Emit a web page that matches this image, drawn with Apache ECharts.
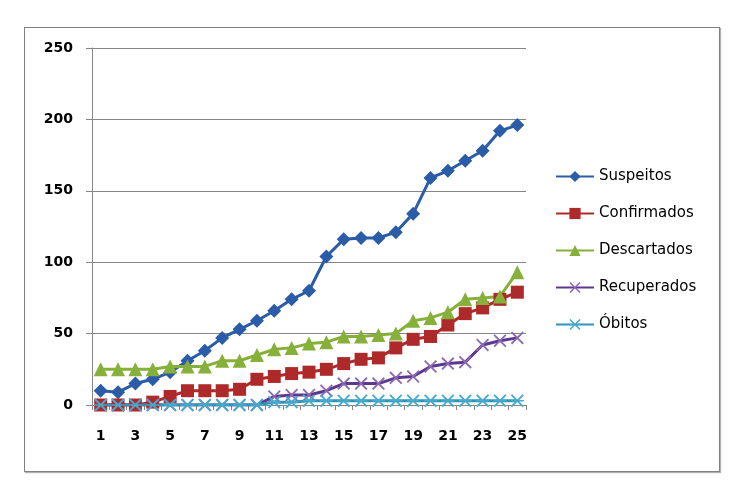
<!DOCTYPE html>
<html>
<head>
<meta charset="utf-8">
<title>Casos</title>
<script src="https://cdn.jsdelivr.net/npm/echarts@6/dist/echarts.min.js"></script>
<style>
    html, body { margin: 0; padding: 0; background: #fff; }
    #frame {
        position: absolute; left: 24px; top: 27px;
        width: 694px; height: 443px;
        border: 1px solid #808080;
        box-shadow: 1px 1px 1px #b0b0b0;
    }
    #chart1 { position: absolute; left: 0; top: 0; width: 745px; height: 500px; }
</style>
</head>
<body>
<div id="frame"></div>
<div id="chart1"></div>
<script>
var dias = [];
for (var d = 1; d <= 25; d++) { dias.push(String(d)); }
var yTicks = [0, 50, 100, 150, 200, 250];

var suspeitos   = [10, 9, 15, 18, 23, 31, 38, 47, 53, 59, 66, 74, 80, 104, 116, 117, 117, 121, 134, 159, 164, 171, 178, 192, 196];
var confirmados = [0, 0, 0, 2, 6, 10, 10, 10, 11, 18, 20, 22, 23, 25, 29, 32, 33, 40, 46, 48, 56, 64, 68, 74, 79];
var descartados = [25, 25, 25, 25, 27, 27, 27, 31, 31, 35, 39, 40, 43, 44, 48, 48, 49, 50, 59, 61, 65, 74, 75, 76, 93];
var recuperados = [0, 0, 0, 0, 0, 0, 0, 0, 0, 0, 6, 7, 7, 10, 15, 15, 15, 19, 20, 27, 29, 30, 42, 45, 47];
var obitos      = [0, 0, 0, 0, 0, 0, 0, 0, 0, 0, 2, 2, 3, 3, 3, 3, 3, 3, 3, 3, 3, 3, 3, 3, 3];

// marcadores em X e asterisco, desenhados como caminhos preenchidos
var xMark = 'path://M0,1L1,0L5,4L9,0L10,1L6,5L10,9L9,10L5,6L1,10L0,9L4,5Z';
var starMark = 'path://M0,1L1,0L5,4L9,0L10,1L6,5L10,9L9,10L5,6L1,10L0,9L4,5Z M0,4.4L10,4.4L10,5.6L0,5.6Z';

var chart1 = echarts.init(document.getElementById('chart1'));

function serie(nome, dados, cor, corMarca, simbolo, tamanho) {
    return {
        name: nome,
        type: 'line',
        data: dados,
        symbol: simbolo,
        symbolSize: tamanho,
        showAllSymbol: true,
        lineStyle: { color: cor, width: 3 },
        itemStyle: { color: corMarca }
    };
}

var option = {
    animation: false,
    textStyle: { fontFamily: 'DejaVu Sans' },
    grid: { left: 92, right: 219, top: 48, bottom: 95, containLabel: false },
    legend: {
        orient: 'vertical',
        left: 555,
        top: 169,
        padding: 0,
        itemWidth: 38,
        itemHeight: 14,
        itemGap: 22,
        textStyle: { fontSize: 15, color: '#000' },
        data: ['Suspeitos', 'Confirmados', 'Descartados', 'Recuperados', 'Óbitos']
    },
    xAxis: {
        type: 'category',
        data: dias,
        boundaryGap: true,
        axisLine: { lineStyle: { color: '#868686', width: 1 } },
        axisTick: { show: true, interval: 0, length: 5, lineStyle: { color: '#868686' } },
        axisLabel: { interval: 1, margin: 24, fontSize: 14, fontWeight: 'bold', color: '#000' }
    },
    yAxis: {
        type: 'value',
        min: yTicks[0],
        max: yTicks[yTicks.length - 1],
        interval: 50,
        axisLine: { show: true, lineStyle: { color: '#868686', width: 1 } },
        axisTick: { show: true, length: 6, lineStyle: { color: '#868686' } },
        axisLabel: { margin: 19, fontSize: 14, fontWeight: 'bold', color: '#000' },
        splitLine: { lineStyle: { color: '#868686', width: 1 } }
    },
    series: [
        serie('Suspeitos', suspeitos, '#2a5ca8', '#2a5ca8', 'diamond', 14),
        serie('Confirmados', confirmados, '#ae2a2a', '#ae2a2a', 'rect', 13),
        serie('Descartados', descartados, '#86b03a', '#86b03a', 'triangle', 14),
        serie('Recuperados', recuperados, '#5e3790', '#8a6ab0', xMark, 13),
        serie('Óbitos', obitos, '#2e95b8', '#45aacb', starMark, 13)
    ]
};
chart1.setOption(option, true);
</script>
</body>
</html>
